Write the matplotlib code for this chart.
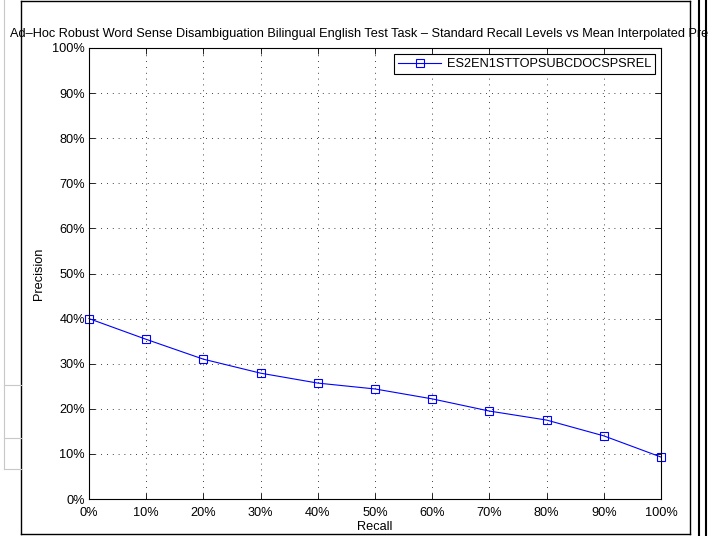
import matplotlib
matplotlib.use('Agg')
import matplotlib.pyplot as plt
from matplotlib.lines import Line2D

plt.rcParams['font.family'] = ['Liberation Sans', 'DejaVu Sans']

# data
recall = [0, 10, 20, 30, 40, 50, 60, 70, 80, 90, 100]
precision = [40.0, 35.4, 31.0, 27.9, 25.7, 24.4, 22.2, 19.5, 17.5, 14.0, 9.3]
run_name = 'ES2EN1STTOPSUBCDOCSPSREL'
ticks = [0, 10, 20, 30, 40, 50, 60, 70, 80, 90, 100]
tick_labels = ['%d%%' % t for t in ticks]
title = ('Ad\u2013Hoc Robust Word Sense Disambiguation Bilingual English Test Task '
         '\u2013 Standard Recall Levels vs Mean Interpolated Precision')

fs = 9.2
fig = plt.figure(figsize=(7.08, 5.36), dpi=100)
ax = fig.add_axes([89 / 708, 1 - 499 / 536, (661 - 89) / 708, (499 - 48) / 536])

ax.plot(recall, precision, color='blue', lw=0.8, marker='s', ms=5.5,
        mfc='none', mec='blue', mew=0.8, label=run_name, clip_on=False)

ax.set_xlim(0, 100)
ax.set_ylim(0, 100)
ax.set_xticks(ticks)
ax.set_yticks(ticks)
ax.set_xticklabels(tick_labels, fontsize=fs)
ax.set_yticklabels(tick_labels, fontsize=fs)
ax.tick_params(direction='in', top=True, right=True, length=4, width=0.6)
ax.tick_params(axis='x', pad=6)
ax.tick_params(axis='y', pad=3)
ax.grid(True, color='black', ls=(0, (1, 6)), lw=0.6)
for s in ax.spines.values():
    s.set_linewidth(0.8)

ax.set_xlabel('Recall', fontsize=fs, labelpad=1)
ax.set_ylabel('Precision', fontsize=fs, labelpad=5)
ax.set_title(title, fontsize=fs, pad=8)

leg = ax.legend(loc='upper right', fontsize=fs, fancybox=False, edgecolor='black',
                framealpha=1, borderaxespad=0.5, handlelength=3.4, borderpad=0.3,
                handletextpad=0.4)
leg.get_frame().set_linewidth(0.8)

# screenshot framing
W, H = 708, 536
def fl(x0, y0, x1, y1, **kw):
    fig.add_artist(Line2D([x0 / W, x1 / W], [1 - y0 / H, 1 - y1 / H], **kw))

fl(21, 1, 690, 1, color='black', lw=1)
fl(21, 1, 21, 534, color='black', lw=1)
fl(21, 534, 690, 534, color='black', lw=1)
fl(690, 1, 690, 534, color='black', lw=1)
fl(699, 0, 699, 536, color='black', lw=1.5)
fl(705.5, 0, 705.5, 536, color='black', lw=1.5)
fl(4, 0, 4, 469, color='#c8c8c8', lw=0.8)
fl(4, 385, 21, 385, color='#c8c8c8', lw=0.8)
fl(4, 438, 21, 438, color='#c8c8c8', lw=0.8)
fl(4, 469, 21, 469, color='#c8c8c8', lw=0.8)

fig.savefig('out.png', dpi=100)
